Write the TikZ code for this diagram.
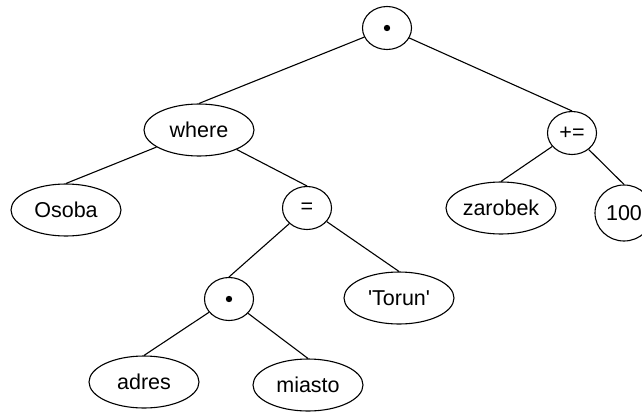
\documentclass[tikz,border=0pt]{standalone}
\usepackage{fontspec}
\newfontfamily\labelfont{Liberation Sans}
\usetikzlibrary{shapes.geometric}
\begin{document}
\begin{tikzpicture}[x=1pt,y=-1pt,
  every node/.style={font=\labelfont\fontsize{21.5}{25}\selectfont, inner sep=0pt, line width=1.1pt},
  leaf/.style={draw, ellipse, minimum width=110pt, minimum height=52pt},
  op/.style={draw, ellipse, minimum width=49pt, minimum height=43pt},
  num/.style={draw, ellipse, minimum width=58pt, minimum height=56pt},
  link/.style={line width=1.1pt}]
\useasboundingbox (0,0) rectangle (642,412);

% operators
\node[op] (root) at (387,28) {};
\node[op] (plus) at (572,133) {+=};
\node[op] (eq) at (307,208) {=};
\node[op] (dot) at (229,299) {};
\fill (root.center) circle (3.2pt);
\fill (dot.center) circle (3.2pt);

% operands
\node[leaf] (where) at (199,130) {where};
\node[leaf] (osoba) at (66,210) {Osoba};
\node[leaf] (zarobek) at (501,208) {zarobek};
\node[num] (hundred) at (624,213) {100};
\node[leaf] (torun) at (399,298) {'Torun'};
\node[leaf] (adres) at (144,382) {adres};
\node[leaf] (miasto) at (308,385) {miasto};

% tree edges
\draw[link] (root) -- (where.north);
\draw[link] (root) -- (plus.north);
\draw[link] (where) -- (osoba.north);
\draw[link] (where) -- (eq.north);
\draw[link] (plus) -- (zarobek.north);
\draw[link] (plus) -- (hundred.north);
\draw[link] (eq) -- (dot.north);
\draw[link] (eq) -- (torun.north);
\draw[link] (dot) -- (adres.north);
\draw[link] (dot) -- (miasto.north);
\end{tikzpicture}
\end{document}
